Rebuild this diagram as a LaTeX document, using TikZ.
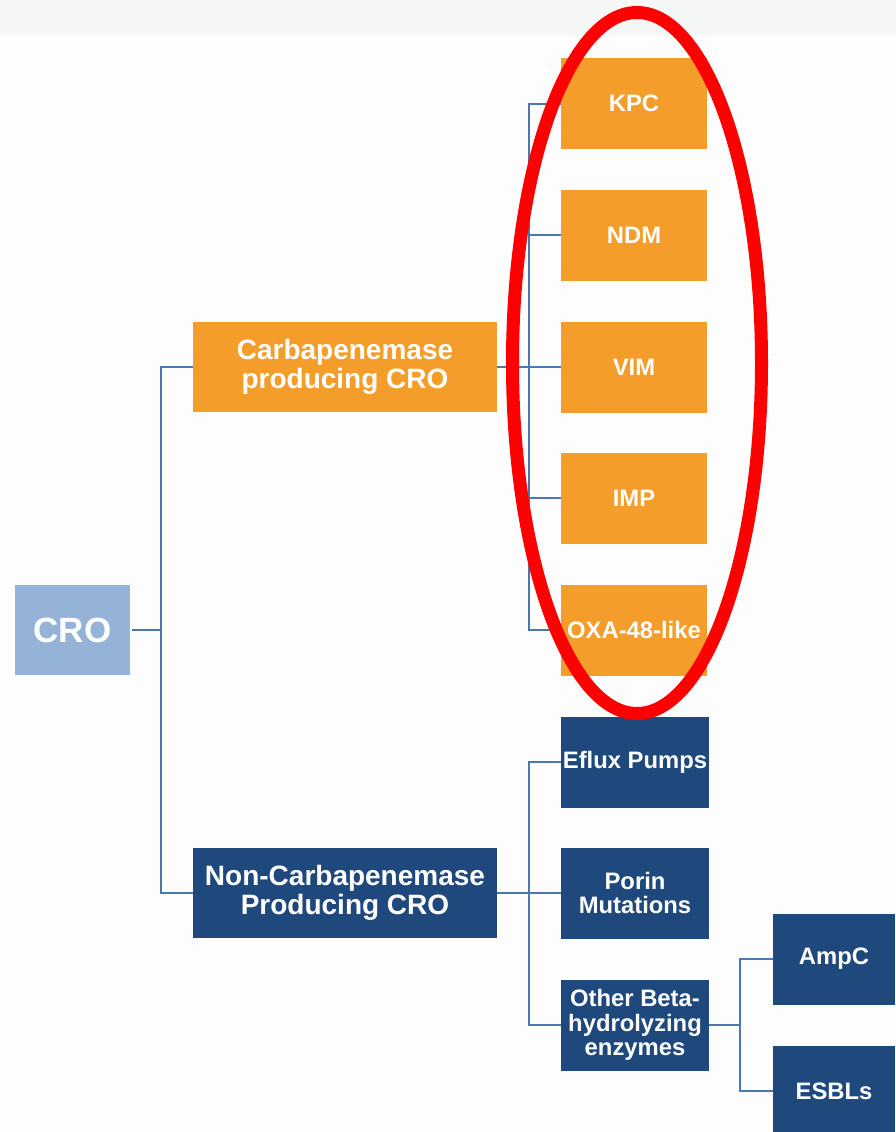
\documentclass[tikz,border=0pt]{standalone}
\usepackage{fontspec}
\setmainfont{Liberation Sans}
\definecolor{orangebox}{HTML}{F49D2A}
\definecolor{darkbox}{HTML}{1F497D}
\definecolor{lightbox}{HTML}{95B3D7}
\definecolor{linkblue}{HTML}{4A77AD}
\definecolor{band}{HTML}{F5F7F6}
\definecolor{paper}{HTML}{FDFDFD}
\tikzset{
  box/.style={rectangle, inner sep=0pt, minimum width=146pt, minimum height=91pt,
    text=white, align=center, font=\bfseries\fontsize{23.8}{24.5}\selectfont},
  obox/.style={box, fill=orangebox},
  dbox/.style={box, fill=darkbox},
  bigbox/.style={box, minimum width=304pt, minimum height=90pt,
    font=\bfseries\fontsize{28}{29}\selectfont},
  conn/.style={draw=linkblue, line width=2pt},
}
\begin{document}
\begin{tikzpicture}[x=1pt, y=-1pt]
  \useasboundingbox (0,0) rectangle (896,1132);
  \fill[paper] (0,0) rectangle (896,1132);
  \fill[band] (0,0) rectangle (896,35);

  % root
  \node[box, fill=lightbox, minimum width=115pt, minimum height=90pt,
        font=\bfseries\fontsize{35}{38}\selectfont] (cro) at (72.5,630) {CRO};

  % second level
  \node[bigbox, fill=orangebox] (carb) at (345,367) {Carbapenemase\\producing CRO};
  \node[bigbox, fill=darkbox] (noncarb) at (345,893) {Non-Carbapenemase\\Producing CRO};

  % carbapenemase types
  \node[obox] (kpc) at (634,103.5) {KPC};
  \node[obox] (ndm) at (634,235) {NDM};
  \node[obox] (vim) at (634,367) {VIM};
  \node[obox] (imp) at (634,498) {IMP};
  \node[obox] (oxa) at (634,630) {OXA-48-like};

  % other mechanisms
  \node[dbox, minimum width=148pt] (eflux) at (635,762) {Eflux Pumps};
  \node[dbox, minimum width=148pt] (porin) at (635,893) {Porin\\Mutations};
  \node[dbox, minimum width=148pt] (other) at (635,1025) {Other Beta-\\hydrolyzing\\enzymes};
  \node[dbox, minimum width=122pt] (ampc) at (834,959) {AmpC};
  \node[dbox, minimum width=122pt] (esbl) at (834,1091) {ESBLs};

  % junction points of the tree
  \coordinate (j1) at (161,630);
  \coordinate (j2) at (529,367);
  \coordinate (j3) at (529,893);
  \coordinate (j4) at (740,1025);

  \draw[conn] ([xshift=2pt]cro.east) -- (j1);
  \draw[conn] (j1) |- (carb.west);
  \draw[conn] (j1) |- (noncarb.west);

  \draw[conn] (carb.east) -- (j2);
  \foreach \n in {kpc,ndm,vim,imp,oxa} \draw[conn] (j2) |- (\n.west);

  \draw[conn] (noncarb.east) -- (j3);
  \foreach \n in {eflux,porin,other} \draw[conn] (j3) |- (\n.west);

  \draw[conn] (other.east) -- (j4);
  \foreach \n in {ampc,esbl} \draw[conn] (j4) |- (\n.west);

  % highlight ring
  \draw[red, line width=13pt] (637,363) ellipse [x radius=124.5pt, y radius=350.5pt];
\end{tikzpicture}
\end{document}
